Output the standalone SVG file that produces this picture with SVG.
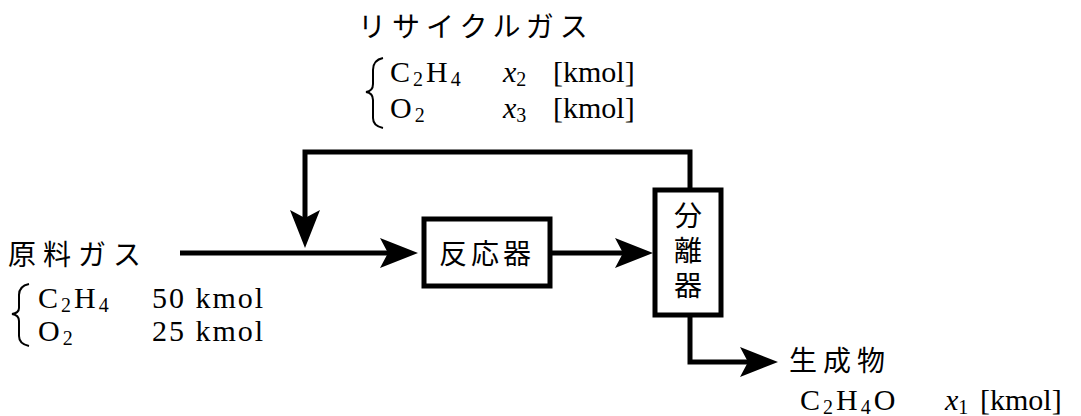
<svg xmlns="http://www.w3.org/2000/svg" width="1081" height="416" viewBox="0 0 1081 416">
<style>
.l{font-family:"Liberation Serif","Noto Sans CJK JP",serif;font-size:30px;fill:#000}
.f{letter-spacing:3px}
.n{letter-spacing:2px}
.s{font-size:20px}
.i{font-style:italic}
.j{font-family:"Noto Sans CJK JP",sans-serif;font-size:28px;fill:#000}
.box{fill:#fff;stroke:#000;stroke-width:5}
.ln{fill:none;stroke:#000;stroke-width:5;marker-end:url(#arr)}
.br{fill:none;stroke:#000;stroke-width:2}
</style>
<defs>
<marker id="arr" markerUnits="userSpaceOnUse" markerWidth="40" markerHeight="32" refX="28" refY="16" orient="auto">
<path d="M1,1 L39,16 L1,31 L9,16 z" fill="#000"/>
</marker>
</defs>
<g id="connectors">
<path class="ln" d="M180,253 H407"/>
<path class="ln" d="M690,188 V152 H305 V237"/>
<path class="ln" d="M552,253 H642"/>
<path class="ln" d="M690,317 V362 H767"/>
</g>
<g id="reactor">
<rect class="box" x="424" y="219" width="126" height="67"/>
<text class="j" x="487" y="264" text-anchor="middle" letter-spacing="4">反応器</text>
</g>
<g id="separator">
<rect class="box" x="655" y="190" width="66" height="125"/>
<text class="j" x="688" y="201" font-size="29" writing-mode="vertical-rl" letter-spacing="7">分離器</text>
</g>
<g id="recycle-label">
<text class="j" x="358" y="37" font-size="24" letter-spacing="6">リサイクルガス</text>
<path class="br" d="M383,58 Q373,60 373,70 V84 Q373,91 366,92 Q373,93 373,100 V118 Q373,126 383,128"/>
<text class="l f" x="390" y="82">C<tspan class="s" dy="4">2</tspan><tspan dy="-4">H</tspan><tspan class="s" dy="4">4</tspan></text>
<text class="l" x="503" y="82"><tspan class="i">x</tspan><tspan class="s" dy="4">2</tspan></text>
<text class="l" x="553" y="82">[kmol]</text>
<text class="l f" x="390" y="118">O<tspan class="s" dy="4">2</tspan></text>
<text class="l" x="503" y="118"><tspan class="i">x</tspan><tspan class="s" dy="4">3</tspan></text>
<text class="l" x="553" y="118">[kmol]</text>
</g>
<g id="feed-label">
<text class="j" x="8" y="265" letter-spacing="7">原料ガス</text>
<path class="br" d="M29,284 Q19,286 19,295 V308 Q19,313 12,314 Q19,315 19,321 V336 Q19,344 29,346"/>
<text class="l f" x="38" y="308">C<tspan class="s" dy="4">2</tspan><tspan dy="-4">H</tspan><tspan class="s" dy="4">4</tspan></text>
<text class="l n" x="152" y="308">50 kmol</text>
<text class="l f" x="38" y="341">O<tspan class="s" dy="4">2</tspan></text>
<text class="l n" x="152" y="341">25 kmol</text>
</g>
<g id="product-label">
<text class="j" x="789" y="371" letter-spacing="6">生成物</text>
<text class="l f" x="800" y="410">C<tspan class="s" dy="4">2</tspan><tspan dy="-4">H</tspan><tspan class="s" dy="4">4</tspan><tspan dy="-4">O</tspan></text>
<text class="l" x="945" y="410"><tspan class="i">x</tspan><tspan class="s" dy="4">1</tspan></text>
<text class="l" x="980" y="410" font-size="32">[kmol]</text>
</g>
</svg>
